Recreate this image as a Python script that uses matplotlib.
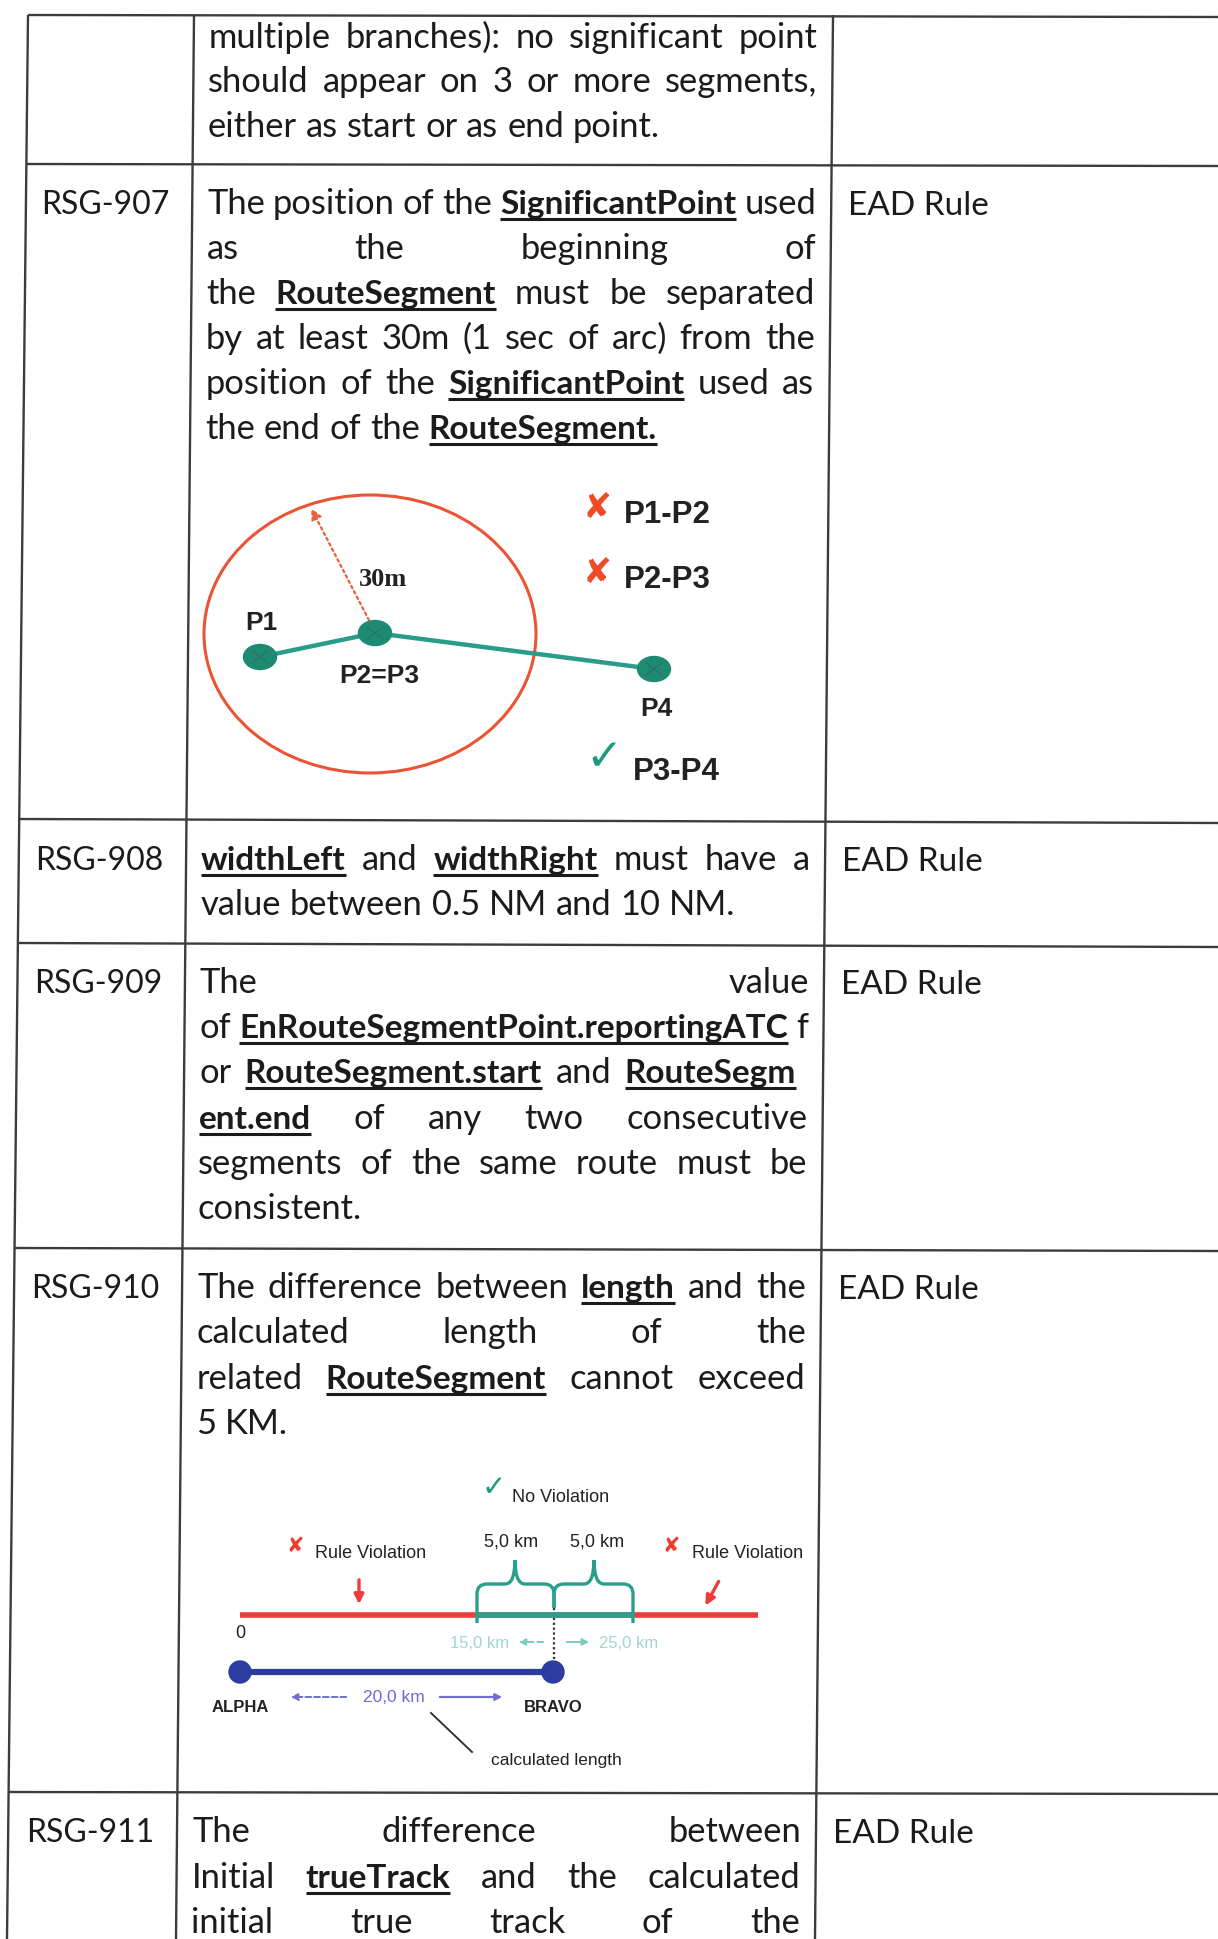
import re
import numpy as np
import matplotlib.pyplot as plt
from matplotlib.patches import Ellipse, PathPatch, Circle
from matplotlib.path import Path

W, H = 1218, 1939
BODY = ["Lato", "DejaVu Sans"]
FS_REG = 24.8      # regular body text (pt at 100 dpi)
FS_BOLD = 24       # bold, underlined field names
FS_ID = 23
SKEW = 0.0093      # scan is slightly sheared: x drifts left going down
INK = "#1b1b1b"
GRID = "#3c3c3c"

# ---- table content ----
rule_ids = ["", "RSG-907", "RSG-908", "RSG-909", "RSG-910", "RSG-911"]
ead_col = ["", "EAD Rule", "EAD Rule", "EAD Rule", "EAD Rule", "EAD Rule"]
# (text, justify) ; justify may be a number = right edge trim in px
row_lines = [
    [("multiple branches): no significant point", True),
     ("should appear on 3 or more segments,", True),
     ("either as start or as end point.", False)],
    [("The position of the **SignificantPoint** used", True),
     ("as the beginning of", True),
     ("the **RouteSegment** must be separated", True),
     ("by at least 30m (1 sec of arc) from the", True),
     ("position of the **SignificantPoint** used as", True),
     ("the end of the **RouteSegment.**", False)],
    [("**widthLeft** and **widthRight** must have a", True),
     ("value between 0.5 NM and 10 NM.", False)],
    [("The value", True),
     ("of **EnRouteSegmentPoint.reportingATC** f", True),
     ("or **RouteSegment.start** and **RouteSegm**", 12),
     ("**ent.end** of any two consecutive", True),
     ("segments of the same route must be", True),
     ("consistent.", False)],
    [("The difference between **length** and the", True),
     ("calculated length of the", True),
     ("related **RouteSegment** cannot exceed", True),
     ("5 KM.", False)],
    [("The difference between", True),
     ("Initial **trueTrack** and the calculated", True),
     ("initial true track of the", True)],
]
row_first_baseline = [48, 214, 870, 993, 1298, 1842]
line_step = [44.5, 45, 45, 45.2, 45.3, 45.5]

# ---- table geometry ----
hlines = [(15, 17), (164, 166), (819, 823), (943, 947), (1248, 1251), (1792, 1794)]
vlines = [(28, 7), (194, 176), (833, 815)]
ID_X, TXT_L, TXT_R, EAD_X = 43, 209, 818, 850

# ---- RSG-907 sketch ----
seg_pts_x = [260, 375, 654]
seg_pts_y = [657, 633, 669]
seg_labels = ["P1", "P2=P3", "P4"]
seg_label_xy = [(261, 623), (379, 676), (656, 709)]
legend907 = [("P1-P2", False), ("P2-P3", False), ("P3-P4", True)]
legend907_y = [515, 580, 772]

# ---- RSG-910 sketch ----
km_marks = ["15,0 km", "25,0 km"]
calc_len = "20,0 km"
tol_labels = ["5,0 km", "5,0 km"]


def shift(y):
    return -SKEW * (y - 15)


fig = plt.figure(figsize=(W / 100, H / 100), dpi=100)
ax = fig.add_axes([0, 0, 1, 1])
ax.set_xlim(0, W)
ax.set_ylim(H, 0)
ax.axis("off")
fig.patch.set_facecolor("white")
renderer = fig.canvas.get_renderer()

# grid
for yl, yr in hlines:
    x_start = 28 + (7 - 28) * (yl - 15) / (1939 - 15)
    ax.plot([x_start, W], [yl, yr], color=GRID, lw=1.7, solid_capstyle="butt")
for xt, xb in vlines:
    ax.plot([xt, xb], [15, H], color=GRID, lw=1.7, solid_capstyle="butt")


def measure(word, bold):
    t = ax.text(0, 0, word, fontsize=FS_BOLD if bold else FS_REG, fontfamily=BODY,
                fontweight="bold" if bold else "normal")
    w = t.get_window_extent(renderer).width
    t.remove()
    return w


SPACE = measure("a b", False) - measure("ab", False)


def tokens(line):
    out = []
    for part in re.split(r"(\*\*.+?\*\*)", line):
        if part.startswith("**"):
            out += [(w, True) for w in part[2:-2].split()]
        else:
            out += [(w, False) for w in part.split()]
    return out


def put_line(line, y, justify):
    toks = tokens(line)
    ws = [measure(w, b) for w, b in toks]
    x0 = TXT_L + shift(y)
    x1 = TXT_R + shift(y)
    if justify is not True and justify is not False:
        x1 -= justify
    gap = SPACE
    if justify and len(toks) > 1:
        gap = (x1 - x0 - sum(ws)) / (len(toks) - 1)
    x = x0
    for (w, b), wd in zip(toks, ws):
        ax.text(x, y, w, fontsize=FS_BOLD if b else FS_REG, fontfamily=BODY,
                color=INK, fontweight="bold" if b else "normal",
                ha="left", va="baseline")
        if b:
            ax.plot([x, x + wd], [y + 5, y + 5], color=INK, lw=2.2,
                    solid_capstyle="butt")
        x += wd + gap


for i, lines in enumerate(row_lines):
    y0 = row_first_baseline[i]
    for k, (txt, just) in enumerate(lines):
        put_line(txt, y0 + k * line_step[i], just)
    if rule_ids[i]:
        ax.text(ID_X + shift(y0), y0, rule_ids[i], fontsize=FS_ID, fontfamily=BODY,
                color=INK, ha="left", va="baseline")
        ax.text(EAD_X + shift(y0), y0 + 1, ead_col[i], fontsize=FS_BOLD,
                fontfamily=BODY, color=INK, ha="left", va="baseline")

# ---------- RSG-907 sketch ----------
RED = "#ea5434"
TEAL = "#2a9d8a"
LBL = ["Liberation Sans"]
ax.add_patch(Ellipse((370, 634), 332, 278, fill=False, ec=RED, lw=2.2))
ax.plot(seg_pts_x, seg_pts_y, color=TEAL, lw=3.2, zorder=3)
for px, py in zip(seg_pts_x, seg_pts_y):
    ax.add_patch(Ellipse((px, py), 33, 25, color="#1f8a73", zorder=4))
    ax.plot([px - 8, px + 8], [py - 6, py + 6], color="#2f6f60", lw=0.8, zorder=5)
    ax.plot([px - 8, px + 8], [py + 6, py - 6], color="#2f6f60", lw=0.8, zorder=5)
ax.annotate("", xy=(310, 506), xytext=(373, 628),
            arrowprops=dict(arrowstyle="-|>", color="#e8603c", lw=1.6,
                            linestyle=(0, (1.2, 1.5)), mutation_scale=16))
ax.text(383, 580, "30m", fontsize=19, fontfamily=["Liberation Serif"],
        fontweight="bold", color="#222222", ha="center", va="center")
for lab, (lx, ly) in zip(seg_labels, seg_label_xy):
    ax.text(lx, ly, lab, fontsize=19, fontfamily=LBL,
            fontweight="bold", color="#222222", ha="center", va="center")
for (lab, ok), ly in zip(legend907, legend907_y):
    if ok:
        ax.text(604, ly - 14, "\u2713", fontsize=32, fontfamily=["DejaVu Sans"],
                color="#1c9a80", ha="center", va="center")
        ax.text(633, ly, lab, fontsize=22.5, fontfamily=LBL,
                fontweight="bold", color="#222222", ha="left", va="center")
    else:
        ax.text(597, ly - 7, "\u2718", fontsize=25, fontfamily=["DejaVu Sans"],
                color="#f04a26", ha="center", va="center")
        ax.text(624, ly, lab, fontsize=22.5, fontfamily=LBL,
                fontweight="bold", color="#222222", ha="left", va="center")

# ---------- RSG-910 sketch ----------
NARROW = ["Liberation Sans"]
RED2 = "#ee3b3b"
TEAL2 = "#2a9f8c"
BLUE = "#2c3c9e"
ax.plot([240, 758], [1615, 1615], color=RED2, lw=4, solid_capstyle="butt")
ax.plot([476, 633], [1615, 1615], color=TEAL2, lw=4, solid_capstyle="butt", zorder=3)


def brace(xa, xm, xb, yh, yt, ya, yb):
    r = 10
    verts = [(xa, ya), (xa, yh + r), (xa, yh), (xa + r, yh), (xm - r, yh),
             (xm, yh), (xm, yt), (xm, yh), (xm + r, yh), (xb - r, yh),
             (xb, yh), (xb, yh + r), (xb, yb)]
    codes = [Path.MOVETO, Path.LINETO, Path.CURVE3, Path.CURVE3, Path.LINETO,
             Path.CURVE3, Path.CURVE3, Path.CURVE3, Path.CURVE3, Path.LINETO,
             Path.CURVE3, Path.CURVE3, Path.LINETO]
    ax.add_patch(PathPatch(Path(verts, codes), fill=False, ec=TEAL2, lw=2.4,
                           zorder=4))


brace(477, 515, 554, 1584, 1560, 1623, 1608)
brace(554, 594, 633, 1584, 1560, 1608, 1623)

ax.text(494, 1488, "\u2713", fontsize=21, fontfamily=["DejaVu Sans"],
        color="#1c9a80", ha="center", va="center")
ax.text(512, 1498, "No Violation", fontsize=13, fontfamily=NARROW,
        color="#222222", ha="left", va="center")
for cx, lab in zip([511, 597], tol_labels):
    ax.text(cx, 1542, lab, fontsize=13, fontfamily=NARROW, color="#222222",
            ha="center", va="center")
for xx, tx in [(295, 315), (671, 692)]:
    ax.text(xx, 1546, "\u2718", fontsize=15, fontfamily=["DejaVu Sans"],
            color="#f03a2a", ha="center", va="center")
    ax.text(tx, 1553, "Rule Violation", fontsize=13, fontfamily=NARROW,
            color="#222222", ha="left", va="center")
ax.annotate("", xy=(359, 1607), xytext=(359, 1577),
            arrowprops=dict(arrowstyle="-|>", color=RED2, lw=2.4, mutation_scale=14))
ax.annotate("", xy=(704, 1608), xytext=(720, 1579),
            arrowprops=dict(arrowstyle="-|>", color=RED2, lw=2.4, mutation_scale=14))

ax.plot([554, 554], [1608, 1668], color="#333333", lw=1.6, linestyle=(0, (1, 1.2)))
ax.text(240, 1633, "0", fontsize=13, fontfamily=["Liberation Sans"],
        color="#222222", ha="center", va="center")
ax.text(480, 1643, km_marks[0], fontsize=12, fontfamily=NARROW,
        color="#9ed8cf", ha="center", va="center")
ax.text(629, 1643, km_marks[1], fontsize=12, fontfamily=NARROW,
        color="#9ed8cf", ha="center", va="center")
ax.annotate("", xy=(516, 1642), xytext=(546, 1642),
            arrowprops=dict(arrowstyle="-|>", color="#7ccabd", lw=1.4,
                            linestyle=(0, (3, 2)), mutation_scale=10))
ax.annotate("", xy=(592, 1642), xytext=(564, 1642),
            arrowprops=dict(arrowstyle="-|>", color="#7ccabd", lw=1.4,
                            mutation_scale=10))

ax.plot([240, 553], [1672, 1672], color=BLUE, lw=4.5, solid_capstyle="butt")
for bx in [240, 553]:
    ax.add_patch(Circle((bx, 1672), 11, color=BLUE, zorder=5))
ax.text(240, 1707, "ALPHA", fontsize=12, fontfamily=["Liberation Sans"],
        fontweight="bold", color="#222222", ha="center", va="center")
ax.text(553, 1708, "BRAVO", fontsize=12, fontfamily=["Liberation Sans"],
        fontweight="bold", color="#222222", ha="center", va="center")
ax.text(394, 1698, calc_len, fontsize=12.5, fontfamily=NARROW,
        color="#6a6ad4", ha="center", va="center")
ax.annotate("", xy=(288, 1697), xytext=(349, 1697),
            arrowprops=dict(arrowstyle="-|>", color="#7070cc", lw=1.4,
                            linestyle=(0, (3, 1.5)), mutation_scale=10))
ax.annotate("", xy=(505, 1697), xytext=(437, 1697),
            arrowprops=dict(arrowstyle="-|>", color="#7070cc", lw=1.6,
                            mutation_scale=10))
ax.plot([431, 472], [1713, 1752], color="#333333", lw=1.4)
ax.text(556, 1760, "calculated length", fontsize=12.5, fontfamily=NARROW,
        color="#222222", ha="center", va="center")

fig.savefig("out.png", dpi=100, facecolor="white")
